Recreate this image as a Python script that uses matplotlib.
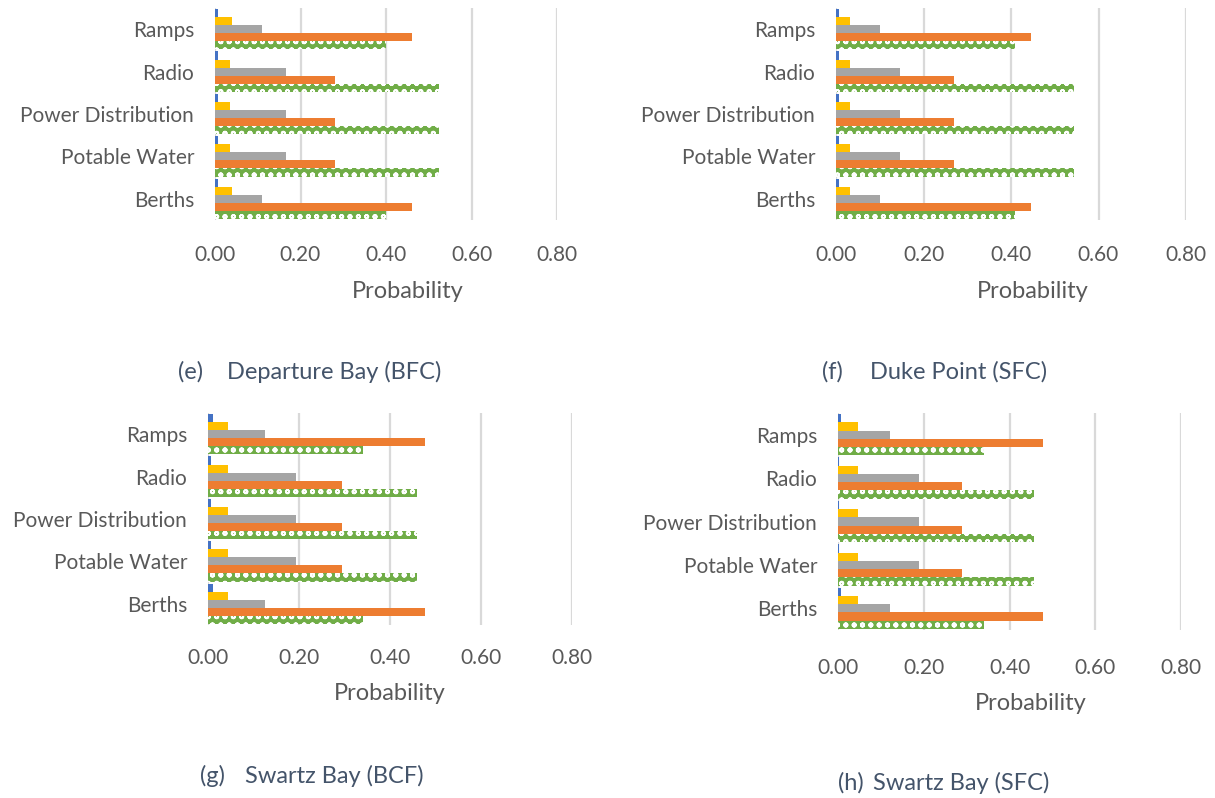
import matplotlib
matplotlib.use("Agg")
import matplotlib.pyplot as plt
import numpy as np

plt.rcParams['font.family'] = ['Lato', 'DejaVu Sans']
plt.rcParams['hatch.linewidth'] = 1.3

categories = ["Berths", "Potable Water", "Power Distribution", "Radio", "Ramps"]
x_ticks = [0.0, 0.2, 0.4, 0.6, 0.8]
x_ticklabels = ["0.00", "0.20", "0.40", "0.60", "0.80"]

# Panel (e) Departure Bay (BFC)  -- values bottom (Berths) to top (Ramps)
e_blue = [0.008, 0.008, 0.008, 0.008, 0.008]
e_yellow = [0.040, 0.034, 0.034, 0.034, 0.040]
e_gray = [0.110, 0.166, 0.166, 0.166, 0.110]
e_orange = [0.460, 0.280, 0.280, 0.280, 0.460]
e_green = [0.400, 0.525, 0.525, 0.525, 0.400]

# Panel (f) Duke Point (SFC)
f_blue = [0.007, 0.007, 0.007, 0.007, 0.007]
f_yellow = [0.032, 0.032, 0.032, 0.032, 0.032]
f_gray = [0.100, 0.147, 0.147, 0.147, 0.100]
f_orange = [0.446, 0.270, 0.270, 0.270, 0.446]
f_green = [0.410, 0.545, 0.545, 0.545, 0.410]

# Panel (g) Swartz Bay (BCF)
g_blue = [0.011, 0.006, 0.006, 0.006, 0.011]
g_yellow = [0.045, 0.045, 0.045, 0.045, 0.045]
g_gray = [0.125, 0.193, 0.193, 0.193, 0.125]
g_orange = [0.476, 0.295, 0.295, 0.295, 0.476]
g_green = [0.340, 0.459, 0.459, 0.459, 0.340]

# Panel (h) Swartz Bay (SFC)
h_blue = [0.008, 0.002, 0.002, 0.002, 0.008]
h_yellow = [0.047, 0.047, 0.047, 0.047, 0.047]
h_gray = [0.121, 0.190, 0.190, 0.190, 0.121]
h_orange = [0.478, 0.290, 0.290, 0.290, 0.478]
h_green = [0.340, 0.458, 0.458, 0.458, 0.340]

colors = ["#4472C4", "#FFC000", "#A5A5A5", "#ED7D31", "#70AD47"]

W, H = 1215, 798
fig = plt.figure(figsize=(W / 100, H / 100), dpi=100)


def px_axes(l, r, t, b):
    return [l / W, (H - b) / H, (r - l) / W, (b - t) / H]


# rect, series, tag, name, tag x, name x, caption y, tick-label y, xlabel x, xlabel y
panels = [
    (px_axes(215, 557, 8, 220), [e_blue, e_yellow, e_gray, e_orange, e_green],
     "(e)", "Departure Bay (BFC)", 178, 227, 372, 254, 408, 292),
    (px_axes(836, 1186, 8, 220), [f_blue, f_yellow, f_gray, f_orange, f_green],
     "(f)", "Duke Point (SFC)", 822, 870, 372, 254, 1033, 292),
    (px_axes(208, 572, 413, 625), [g_blue, g_yellow, g_gray, g_orange, g_green],
     "(g)", "Swartz Bay (BCF)", 200, 245, 776, 657, 390, 693),
    (px_axes(838, 1181, 413, 630), [h_blue, h_yellow, h_gray, h_orange, h_green],
     "(h)", "Swartz Bay (SFC)", 838, 873, 783, 667, 1031, 703),
]

text_color = "#595959"
cap_color = "#44546A"
bar_h = 0.19
y = np.arange(len(categories))

for rect, series, tag, name, tagx, namex, capy, ticky, labx, laby in panels:
    ax = fig.add_axes(rect)
    n = len(series)
    for i, vals in enumerate(series):
        offs = y + (n - 1) / 2 * bar_h - i * bar_h
        if i == 4:
            ax.barh(offs, vals, height=bar_h, color=colors[i], edgecolor="white",
                    linewidth=0, hatch="oo", zorder=3)
        else:
            ax.barh(offs, vals, height=bar_h, color=colors[i], linewidth=0, zorder=3)
    ax.set_xlim(0, 0.8)
    ax.set_ylim(-0.5, 4.5)
    ax.set_yticks(y)
    ax.set_yticklabels(categories)
    ax.set_xticks(x_ticks)
    ax.set_xticklabels(x_ticklabels)
    ax.grid(axis="x", color="#D9D9D9", linewidth=1.6, zorder=0)
    for s in ax.spines.values():
        s.set_visible(False)
    ax.tick_params(axis="both", length=0, labelsize=15, labelcolor=text_color)
    ax_bottom_px = H - rect[1] * H
    tpad = (ticky - 9 - ax_bottom_px) * 0.72
    ax.tick_params(axis="x", pad=tpad)
    ax.tick_params(axis="y", pad=15)
    ax.set_xlabel("Probability", fontsize=17, color=text_color)
    ax.xaxis.set_label_coords(labx / W, 1 - laby / H, transform=fig.transFigure)
    ax.xaxis.label.set_va("center")
    fig.text(tagx / W, 1 - capy / H, tag, fontsize=17, color=cap_color,
             ha="left", va="center")
    fig.text(namex / W, 1 - capy / H, name, fontsize=17, color=cap_color,
             ha="left", va="center")

fig.savefig("out.png", dpi=100)
